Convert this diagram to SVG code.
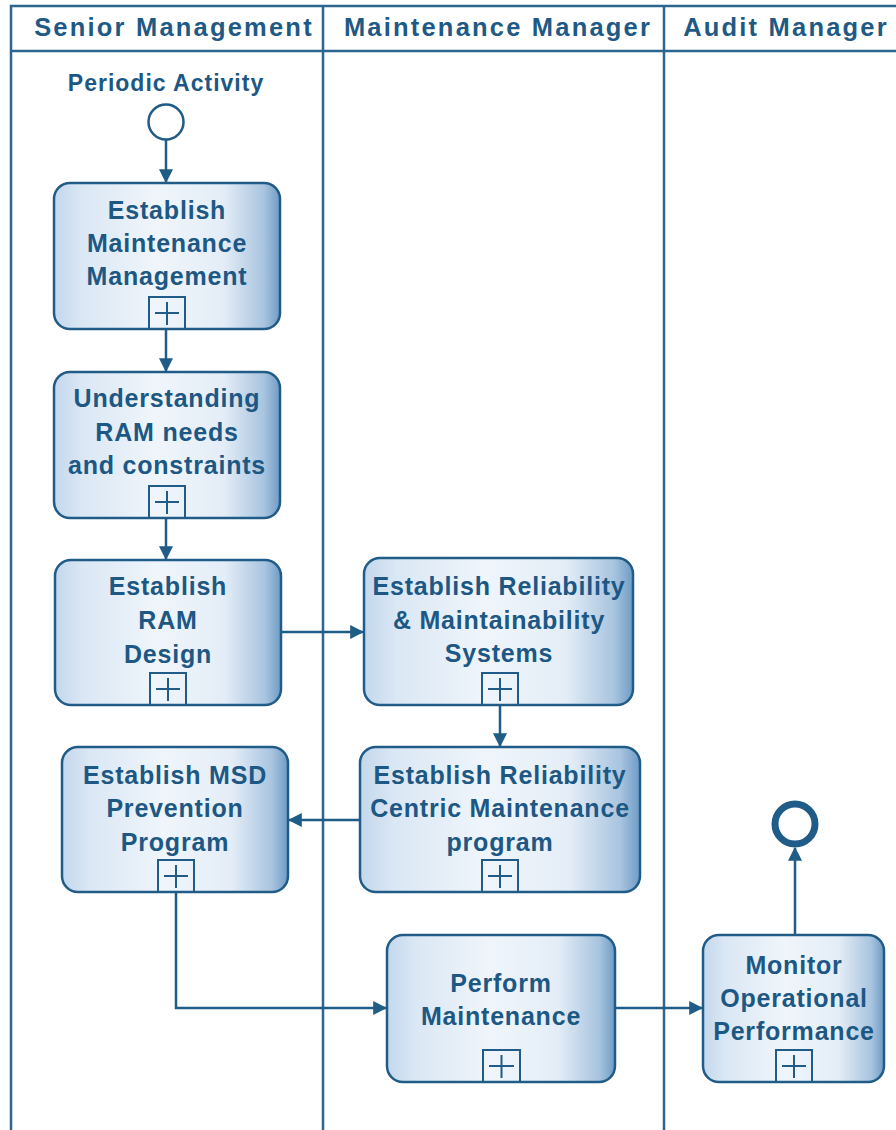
<svg xmlns="http://www.w3.org/2000/svg" width="896" height="1130" viewBox="0 0 896 1130">
<style>
.lane{fill:none;stroke:#2a6690;stroke-width:2.5}
.hdr{font-family:"Liberation Sans",Arial,sans-serif;font-weight:bold;font-size:25.5px;letter-spacing:2.2px;fill:#1f5a85;text-anchor:middle}
.lbl{font-family:"Liberation Sans",Arial,sans-serif;font-weight:bold;font-size:25px;letter-spacing:0.8px;fill:#1d5884;text-anchor:middle}
.box{fill:url(#g);stroke:#215c88;stroke-width:2.5}
.plus{fill:none;stroke:#215c88;stroke-width:2}
.conn{fill:none;stroke:#1f5c88;stroke-width:2.5}
</style>
<defs>
<linearGradient id="g" x1="0" y1="0" x2="1" y2="0">
<stop offset="0" stop-color="#c3d7ec"/>
<stop offset="0.12" stop-color="#dae7f4"/>
<stop offset="0.45" stop-color="#eff5fb"/>
<stop offset="0.75" stop-color="#e4edf7"/>
<stop offset="0.93" stop-color="#a8c4df"/>
<stop offset="1" stop-color="#6e9bc5"/>
</linearGradient>
<marker id="ah" markerUnits="userSpaceOnUse" markerWidth="14" markerHeight="14" viewBox="0 0 12 12" refX="11" refY="6" orient="auto">
<path d="M0,0 L12,6 L0,12 z" fill="#1f5c88"/>
</marker>
</defs>
<g id="lanes">
<path class="lane" d="M11,1130 V6 H896 M11,51 H896 M323,6 V1130 M664,6 V1130"/>
<text class="hdr" x="174" y="36">Senior Management</text>
<text class="hdr" x="498" y="36">Maintenance Manager</text>
<text class="hdr" x="786" y="36">Audit Manager</text>
</g>
<g id="connectors">
<path class="conn" d="M166,140 V182" marker-end="url(#ah)"/>
<path class="conn" d="M166,329 V371" marker-end="url(#ah)"/>
<path class="conn" d="M166,518 V559" marker-end="url(#ah)"/>
<path class="conn" d="M281,632 H363" marker-end="url(#ah)"/>
<path class="conn" d="M500,705 V746" marker-end="url(#ah)"/>
<path class="conn" d="M360,820 H289" marker-end="url(#ah)"/>
<path class="conn" d="M176,892 V1008 H386" marker-end="url(#ah)"/>
<path class="conn" d="M615,1008 H702" marker-end="url(#ah)"/>
<path class="conn" d="M795,935 V848" marker-end="url(#ah)"/>
</g>
<g id="start">
<text class="lbl" x="166" y="91" style="font-size:23px;letter-spacing:1px">Periodic Activity</text>
<circle cx="166" cy="122" r="17.5" fill="#fff" stroke="#215c88" stroke-width="2.5"/>
</g>
<g id="end">
<circle cx="795" cy="824" r="20" fill="#fff" stroke="#1f5c88" stroke-width="7"/>
</g>
<g id="n1">
<rect class="box" x="54" y="183" width="226" height="146" rx="16"/>
<text class="lbl" x="167" y="219">Establish</text>
<text class="lbl" x="167" y="252">Maintenance</text>
<text class="lbl" x="167" y="285">Management</text>
<path class="plus" d="M149,329 V297 H185 V329 M167,302 V325 M155,313 H179"/>
</g>
<g id="n2">
<rect class="box" x="54" y="372" width="226" height="146" rx="16"/>
<text class="lbl" x="167" y="407">Understanding</text>
<text class="lbl" x="167" y="441">RAM needs</text>
<text class="lbl" x="167" y="474">and constraints</text>
<path class="plus" d="M149,518 V486 H185 V518 M167,491 V514 M155,502 H179"/>
</g>
<g id="n3">
<rect class="box" x="55" y="560" width="226" height="145" rx="16"/>
<text class="lbl" x="168" y="595">Establish</text>
<text class="lbl" x="168" y="629">RAM</text>
<text class="lbl" x="168" y="663">Design</text>
<path class="plus" d="M150,705 V673 H186 V705 M168,678 V701 M156,689 H180"/>
</g>
<g id="n4">
<rect class="box" x="364" y="558" width="269" height="147" rx="16"/>
<text class="lbl" x="499" y="595">Establish Reliability</text>
<text class="lbl" x="499" y="629">&amp; Maintainability</text>
<text class="lbl" x="499" y="662">Systems</text>
<path class="plus" d="M482,705 V673 H518 V705 M500,678 V701 M488,689 H512"/>
</g>
<g id="n5">
<rect class="box" x="360" y="747" width="280" height="145" rx="16"/>
<text class="lbl" x="500" y="784">Establish Reliability</text>
<text class="lbl" x="500" y="817">Centric Maintenance</text>
<text class="lbl" x="500" y="851">program</text>
<path class="plus" d="M482,892 V860 H518 V892 M500,865 V888 M488,876 H512"/>
</g>
<g id="n6">
<rect class="box" x="62" y="747" width="226" height="145" rx="16"/>
<text class="lbl" x="175" y="784">Establish MSD</text>
<text class="lbl" x="175" y="817">Prevention</text>
<text class="lbl" x="175" y="851">Program</text>
<path class="plus" d="M158,892 V860 H194 V892 M176,865 V888 M164,876 H188"/>
</g>
<g id="n7">
<rect class="box" x="387" y="935" width="228" height="147" rx="16"/>
<text class="lbl" x="501" y="992">Perform</text>
<text class="lbl" x="501" y="1025">Maintenance</text>
<path class="plus" d="M483,1082 V1050 H520 V1082 M501.5,1055 V1078 M489,1066 H514"/>
</g>
<g id="n8">
<rect class="box" x="703" y="935" width="181" height="147" rx="16"/>
<text class="lbl" x="794" y="974">Monitor</text>
<text class="lbl" x="794" y="1007">Operational</text>
<text class="lbl" x="794" y="1040">Performance</text>
<path class="plus" d="M776,1082 V1050 H812 V1082 M794,1055 V1078 M782,1066 H806"/>
</g>
</svg>
